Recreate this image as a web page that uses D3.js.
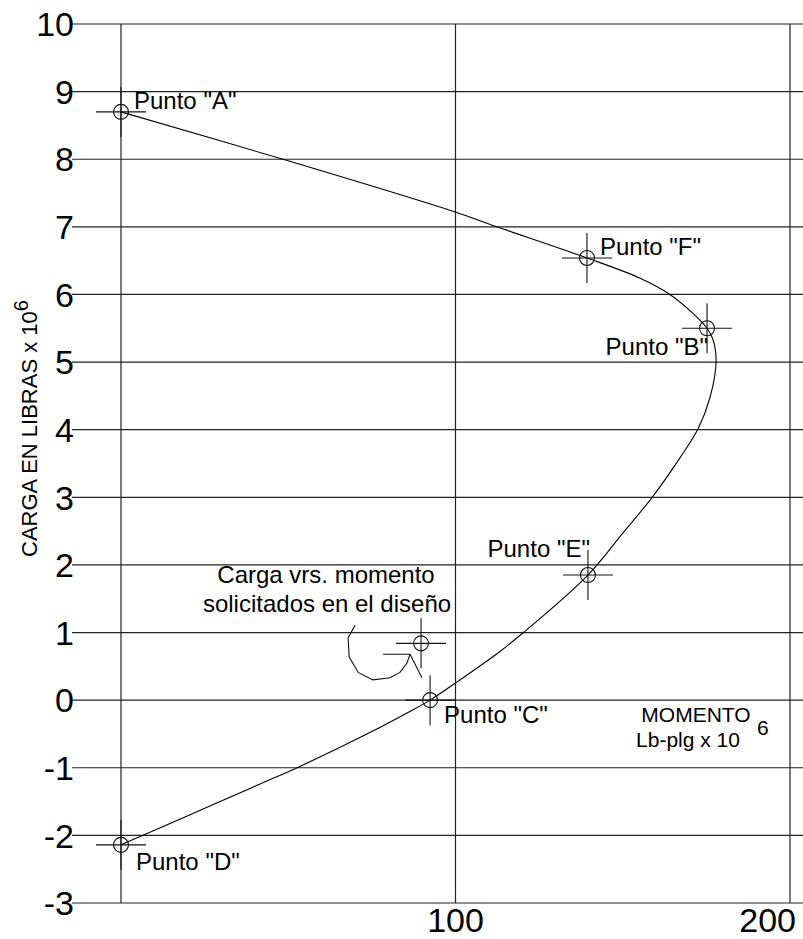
<!DOCTYPE html>
<html>
<head>
<meta charset="utf-8">
<script src="https://cdn.jsdelivr.net/npm/d3@7"></script>
<style>
  body { margin:0; background:#fff; }
  text { font-family: 'Liberation Sans', Arial, sans-serif; fill:#000; }
</style>
</head>
<body>
<div id="container"></div>
<script>
const canvasWidth = 803;
const canvasHeight = 939;

// grid / ticks
let yTicks = [-3,-2,-1,0,1,2,3,4,5,6,7,8,9,10];
let xGrid = [0,100,200];
let xTickLabels = [100,200];

// interaction curve, D -> C -> E -> B -> F -> A
let curveX = [0,17.6,41.6,53.5,74.4,85.5,92.4,99.9,113.3,120.3,139.6,150.0,158.8,167.2,172.6,176.1,177.9,177,175.2,171,164.1,155.2,139.3,112.4,99.9,48.4,0];
let curveY = [-2.14,-1.76,-1.24,-0.98,-0.48,-0.19,0,0.25,0.72,1.0,1.85,2.47,3.0,3.59,4.02,4.48,5.0,5.33,5.5,5.72,6.0,6.24,6.54,7.0,7.22,8.0,8.7];

// named points
let pointNames = ['A','F','B','E','C','D'];
let pointX = [0,139.3,175.2,139.6,92.4,0];
let pointY = [8.7,6.54,5.5,1.85,0,-2.14];

// design load point
let designX = [89.7];
let designY = [0.84];

// leader line of the note (data units)
let leaderX = [70.0,67.9,68.2,70.9,75.3,80.4,83.4,85.5,86.4];
let leaderY = [1.11,0.92,0.64,0.41,0.30,0.33,0.41,0.55,0.68];

let x = d3.scaleLinear().domain([0,200]).range([121,790]);
let y = d3.scaleLinear().domain([-3,10]).range([903,24]);

let svg = d3.select('#container')
  .append('svg')
  .attr('width',canvasWidth)
  .attr('height',canvasHeight);

// horizontal grid
svg.selectAll('.hgrid').data(yTicks).enter()
  .append('line')
  .attr('class','hgrid')
  .attr('x1',72)
  .attr('x2',canvasWidth)
  .attr('y1',d=>y(d))
  .attr('y2',d=>y(d))
  .style('stroke','#222')
  .style('stroke-width',1.2);

// vertical grid
svg.selectAll('.vgrid').data(xGrid).enter()
  .append('line')
  .attr('class','vgrid')
  .attr('x1',d=>x(d))
  .attr('x2',d=>x(d))
  .attr('y1',y(10))
  .attr('y2',y(-3))
  .style('stroke','#222')
  .style('stroke-width',1.2);

// y tick labels
svg.selectAll('.ylab').data(yTicks).enter()
  .append('text')
  .attr('class','ylab')
  .attr('x',74)
  .attr('y',d=>y(d))
  .attr('dy','0.36em')
  .attr('text-anchor','end')
  .style('font-size','34px')
  .text(d=>d);

// x tick labels
svg.selectAll('.xlab').data(xTickLabels).enter()
  .append('text')
  .attr('class','xlab')
  .attr('x',d=> d==200 ? x(d)+6 : x(d))
  .attr('y',932)
  .attr('text-anchor',d=> d==200 ? 'end' : 'middle')
  .style('font-size','34px')
  .text(d=>d);

// y axis title
let yt = svg.append('text')
  .attr('transform','translate(37,557) rotate(-90)')
  .style('font-size','22px');
yt.append('tspan').text('CARGA EN LIBRAS x 10');
yt.append('tspan').attr('dy',-9).style('font-size','20px').text('6');

// curve
let curveData = curveX.map((d,i)=>[d,curveY[i]]);
let line = d3.line().x(d=>x(d[0])).y(d=>y(d[1])).curve(d3.curveCatmullRom);
svg.append('path')
  .attr('d',line(curveData))
  .style('fill','none')
  .style('stroke','#000')
  .style('stroke-width',1.1);

// markers
function drawMarker(px,py){
  let g = svg.append('g').attr('transform','translate('+x(px)+','+y(py)+')');
  g.append('line').attr('x1',-25).attr('x2',25).attr('y1',0).attr('y2',0)
    .style('stroke','#111').style('stroke-width',1.1);
  g.append('line').attr('x1',0).attr('x2',0).attr('y1',-25).attr('y2',25)
    .style('stroke','#111').style('stroke-width',1.1);
  g.append('circle').attr('r',7.5)
    .style('fill','none').style('stroke','#111').style('stroke-width',1.1);
}
pointX.forEach((d,i)=>drawMarker(d,pointY[i]));
drawMarker(designX[0],designY[0]);

// point labels
let labelPos = {
  'A':{dx:13,dy:-3,anchor:'start'},
  'F':{dx:13,dy:-3,anchor:'start'},
  'B':{dx:1,dy:27,anchor:'end'},
  'E':{dx:2,dy:-18,anchor:'end'},
  'C':{dx:14,dy:23,anchor:'start'},
  'D':{dx:15,dy:25,anchor:'start'}
};
pointNames.forEach(function(n,i){
  let p = labelPos[n];
  svg.append('text')
    .attr('x',x(pointX[i])+p.dx)
    .attr('y',y(pointY[i])+p.dy)
    .attr('text-anchor',p.anchor)
    .style('font-size','24px')
    .text('Punto "'+n+'"');
});

// note
svg.append('text').attr('x',326).attr('y',583).attr('text-anchor','middle')
  .style('font-size','24px').text('Carga vrs. momento');
svg.append('text').attr('x',327).attr('y',612).attr('text-anchor','middle')
  .style('font-size','24px').text('solicitados en el diseño');

let leaderData = leaderX.map((d,i)=>[d,leaderY[i]]);
let leader = d3.line().x(d=>x(d[0])).y(d=>y(d[1]));
svg.append('path')
  .attr('d',leader(leaderData))
  .style('fill','none').style('stroke','#111').style('stroke-width',1.1);
// arrow head
svg.append('path')
  .attr('d',leader([[78.3,0.68],[86.4,0.68],[90.0,0.33]]))
  .style('fill','none').style('stroke','#111').style('stroke-width',1.1);

// moment label
svg.append('text').attr('x',696).attr('y',722).attr('text-anchor','middle')
  .style('font-size','21px').text('MOMENTO');
svg.append('text').attr('x',688).attr('y',747).attr('text-anchor','middle')
  .style('font-size','21px').text('Lb-plg x 10');
svg.append('text').attr('x',757).attr('y',735)
  .style('font-size','21px').text('6');
</script>
</body>
</html>
